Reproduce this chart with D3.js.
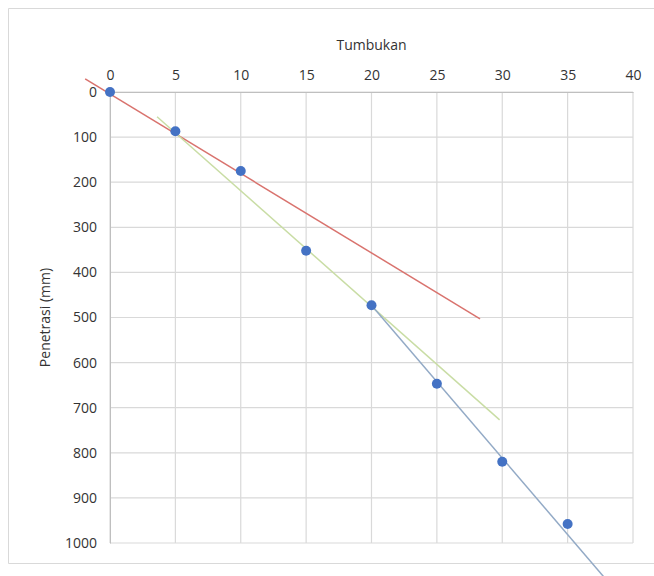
<!DOCTYPE html>
<html>
<head>
<meta charset="utf-8">
<script src="https://cdn.jsdelivr.net/npm/d3@7"></script>
<style>
  body { margin: 0; background: #fff; }
  svg { display: block; font-family: "Open Sans", sans-serif; }
</style>
</head>
<body>
<div id="vis"></div>
<script>
// data points
const tumbukan = [0, 5, 10, 15, 20, 25, 30, 35];
const penetrasi = [0, 87, 175, 352, 473, 647, 820, 958];

// trend lines (start / end)
const redLineX = [-1.9, 28.3];
const redLineY = [-29, 503];
const greenLineX = [3.6, 29.8];
const greenLineY = [55, 727];
const blueLineX = [19.8, 38.5];
const blueLineY = [466, 1100];

const xTicks = [0, 5, 10, 15, 20, 25, 30, 35, 40];
const yTicks = [0, 100, 200, 300, 400, 500, 600, 700, 800, 900, 1000];

const width = 654, height = 576;
const margin = { top: 92, right: 21, bottom: 33, left: 110 };

const svg = d3.select("#vis").append("svg")
    .attr("width", width)
    .attr("height", height);

// outer chart border
svg.append("path")
    .attr("d", `M${width},8.5 H8.5 V563.5 H${width}`)
    .attr("fill", "none")
    .attr("stroke", "#d9d9d9");

const x = d3.scaleLinear().domain([0, 40]).range([margin.left, width - margin.right]);
const y = d3.scaleLinear().domain([0, 1000]).range([margin.top, height - margin.bottom]);

// gridlines
const grid = svg.append("g").attr("stroke", "#d9d9d9").attr("stroke-width", 1.2);
grid.selectAll(".gx").data(xTicks).enter().append("line")
    .attr("x1", d => x(d)).attr("x2", d => x(d))
    .attr("y1", y(0)).attr("y2", y(1000));
grid.selectAll(".gy").data(yTicks).enter().append("line")
    .attr("x1", x(0)).attr("x2", x(40))
    .attr("y1", d => y(d)).attr("y2", d => y(d));

// axes
const xAxis = svg.append("g")
    .attr("transform", `translate(0,${y(0)})`)
    .call(d3.axisTop(x).tickValues(xTicks).tickFormat(d3.format("d")).tickSize(0).tickPadding(12));
const yAxis = svg.append("g")
    .attr("transform", `translate(${x(0)},0)`)
    .call(d3.axisLeft(y).tickValues(yTicks).tickFormat(d3.format("d")).tickSize(0).tickPadding(13));
[xAxis, yAxis].forEach(a => {
    a.select(".domain").attr("stroke", "#bfbfbf");
    a.selectAll("text").attr("fill", "#333").style("font-size", "14px")
        .style("font-family", "'Open Sans', sans-serif");
});

// axis titles
svg.append("text")
    .attr("x", x(20)).attr("y", 50)
    .attr("text-anchor", "middle")
    .attr("fill", "#333")
    .style("font-size", "14px")
    .text("Tumbukan");
svg.append("text")
    .attr("transform", `translate(50,${y(500)}) rotate(-90)`)
    .attr("text-anchor", "middle")
    .attr("fill", "#333")
    .style("font-size", "14px")
    .text("Penetrasi (mm)");

// trend lines
const line = d3.line().x(d => x(d[0])).y(d => y(d[1]));
const trends = [
    { xs: redLineX, ys: redLineY, color: "#d9736e" },
    { xs: greenLineX, ys: greenLineY, color: "#c9dda5" },
    { xs: blueLineX, ys: blueLineY, color: "#93aac6" }
];
trends.forEach(t => {
    svg.append("path")
        .datum(d3.zip(t.xs, t.ys))
        .attr("d", line)
        .attr("fill", "none")
        .attr("stroke", t.color)
        .attr("stroke-width", 1.5);
});

// points
svg.append("g").selectAll("circle")
    .data(d3.zip(tumbukan, penetrasi))
    .enter()
    .append("circle")
    .attr("cx", d => x(d[0]))
    .attr("cy", d => y(d[1]))
    .attr("r", 5)
    .attr("fill", "#4472c4");
</script>
</body>
</html>
